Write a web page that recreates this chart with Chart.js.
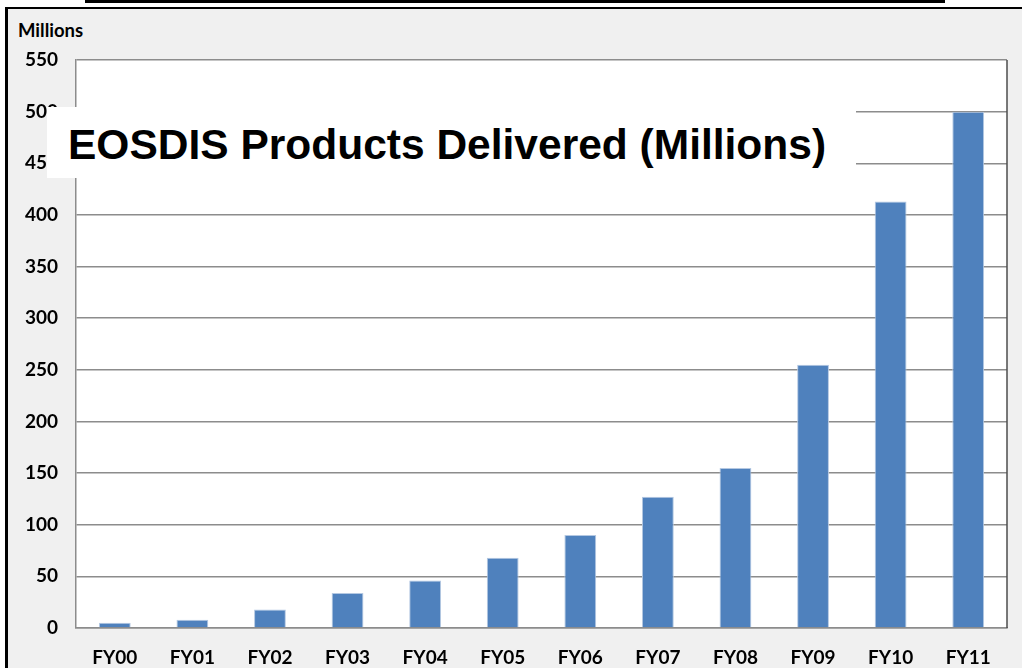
<!DOCTYPE html>
<html>
<head>
<meta charset="utf-8">
<script src="https://cdn.jsdelivr.net/npm/chart.js@4"></script>
<style>
    html, body { margin: 0; padding: 0; background: #ffffff; }
    #frame {
        position: absolute; left: 0; top: 0; width: 1022px; height: 668px; overflow: hidden;
    }
    #topbar { position: absolute; left: 85px; top: 0; width: 860px; height: 3px; background: #000; }
    #panel {
        position: absolute; left: 5px; top: 7px; width: 1017px; height: 661px;
        background: #f0f0f0; border-left: 3px solid #000; border-top: 2px solid #000;
    }
    #unit {
        position: absolute; left: 18px; top: 19px;
        font: bold 18.5px Lato, sans-serif; color: #000;
    }
    #chartBox { position: absolute; left: 0; top: 0; width: 1022px; height: 668px; }
    #titleBox {
        position: absolute; left: 47px; top: 107px; width: 809px; height: 71px;
        background: #ffffff;
    }
    #titleBox span {
        position: absolute; left: 21px; top: 14px;
        font: bold 42.5px "Liberation Sans", Arial, sans-serif; color: #000; white-space: nowrap;
    }
</style>
</head>
<body>
<div id="frame">
    <div id="topbar"></div>
    <div id="panel"></div>
    <div id="unit">Millions</div>
    <div id="chartBox"><canvas id="productsChart" width="1022" height="668"></canvas></div>
    <div id="titleBox"><span>EOSDIS Products Delivered (Millions)</span></div>
</div>
<script>
// Données
const years = ['FY00', 'FY01', 'FY02', 'FY03', 'FY04', 'FY05', 'FY06', 'FY07', 'FY08', 'FY09', 'FY10', 'FY11'];
const productsDelivered = [5, 8, 18, 34, 46, 68, 90, 127, 155, 255, 413, 500];
const yTicks = [0, 50, 100, 150, 200, 250, 300, 350, 400, 450, 500, 550];

// fond blanc + bordure droite de la zone de tracé
const plotFrame = {
    id: 'plotFrame',
    beforeDraw(chart) {
        const a = chart.chartArea;
        const ctx = chart.ctx;
        ctx.save();
        ctx.fillStyle = '#ffffff';
        ctx.fillRect(a.left, a.top, a.right - a.left, a.bottom - a.top);
        ctx.restore();
    },
    afterDraw(chart) {
        const a = chart.chartArea;
        const ctx = chart.ctx;
        ctx.save();
        ctx.strokeStyle = '#4d4d4d';
        ctx.lineWidth = 1.5;
        ctx.beginPath();
        ctx.moveTo(a.right, a.top);
        ctx.lineTo(a.right, a.bottom);
        ctx.stroke();
        ctx.restore();
    }
};

const ctx = document.getElementById('productsChart').getContext('2d');
new Chart(ctx, {
    type: 'bar',
    data: {
        labels: years,
        datasets: [{
            label: 'Products Delivered (Millions)',
            data: productsDelivered,
            backgroundColor: '#4f81bd',
            borderColor: '#b4c8e2',
            borderWidth: 1,
            barPercentage: 0.41,
            categoryPercentage: 1.0
        }]
    },
    options: {
        responsive: false,
        animation: false,
        layout: { padding: { left: 0, right: 15, top: 60, bottom: 0 } },
        plugins: {
            legend: { display: false },
            tooltip: { enabled: false }
        },
        scales: {
            x: {
                afterFit(axis) { axis.height = 40; },
                grid: { display: false, drawTicks: false },
                border: { color: '#8c8c8c', width: 1.5 },
                ticks: {
                    padding: 18,
                    color: '#000',
                    font: { family: 'Lato', size: 19, weight: 'bold' }
                }
            },
            y: {
                min: 0,
                max: 550,
                afterFit(axis) { axis.width = 76; },
                afterBuildTicks(axis) { axis.ticks = yTicks.map(v => ({ value: v })); },
                grid: { color: '#8c8c8c', lineWidth: 1.5, drawTicks: false },
                border: { color: '#8c8c8c', width: 1.5 },
                ticks: {
                    padding: 18,
                    color: '#000',
                    font: { family: 'Lato', size: 19, weight: 'bold' }
                }
            }
        }
    },
    plugins: [plotFrame]
});
</script>
</body>
</html>
